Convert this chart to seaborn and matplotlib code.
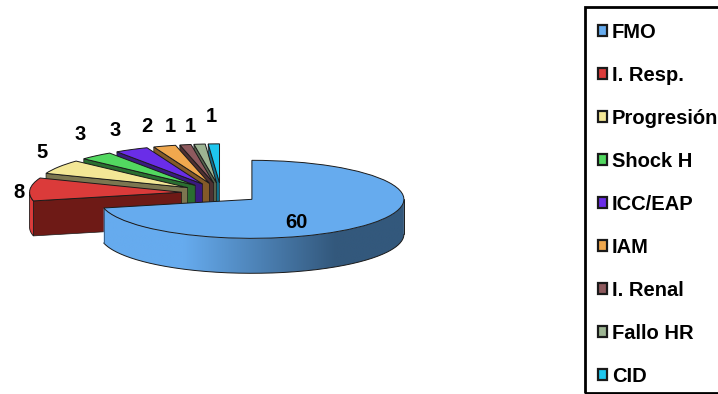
import numpy as np
import matplotlib
matplotlib.use("Agg")
import matplotlib.pyplot as plt
from matplotlib.patches import Patch, Polygon, Rectangle
import seaborn as sns

categories = ["FMO", "I. Resp.", "Progresión", "Shock H", "ICC/EAP", "IAM", "I. Renal", "Fallo HR", "CID"]
values = [60, 8, 5, 3, 3, 2, 1, 1, 1]
top_colors = ["#66ABEE", "#DB3B3A", "#F3E796", "#52D860", "#6A2DE8", "#F0A84E", "#8E5A5E", "#9DB593", "#1EC6EE"]
wall_colors = ["#33587C", "#6E1A16", "#7C7650", "#2A6E30", "#3A1A80", "#845A28", "#4E3032", "#56644E", "#10708C"]

# layout, in pixels of the 718x394 figure
W, H = 718, 394
CX, CY, RX, RY, DEPTH = 221, 193, 152, 39, 35
label_px = [(296, 222), (19, 192), (42, 152), (80, 135), (115, 131), (147, 126), (170, 126), (190, 126), (211, 117)]

sns.set_theme(style="white")
plt.rcParams["font.family"] = ["Liberation Sans", "DejaVu Sans"]

fig = plt.figure(figsize=(W / 100, H / 100), dpi=100)
ax = fig.add_axes([0, 0, 1, 1])
palette = sns.color_palette(top_colors)
explode = [0.26] * len(values)
wedges, _ = ax.pie(values, explode=explode, colors=palette, startangle=90, counterclock=False,
                   wedgeprops=dict(edgecolor="#1a1a1a", linewidth=0.7))
d = DEPTH / RY
n = len(wedges)
edge = dict(edgecolor="#1a1a1a", linewidth=0.6)


def rim_angles(w):
    t = np.linspace(w.theta1, w.theta2, 361)
    return t[np.sin(np.radians(t)) <= 0]


# small slices: back to front, then the large one
for i in list(range(n - 1, 0, -1)) + [0]:
    w = wedges[i]
    cx, cy = w.center
    z = 2 * (n - i) if i else 2 * n + 2
    w.set_zorder(z + 1)
    t = rim_angles(w)
    if i:
        a = np.radians(w.theta2)
        ex, ey = cx + w.r * np.cos(a), cy + w.r * np.sin(a)
        ax.fill([cx, ex, ex, cx], [cy, ey, ey - d, cy - d], facecolor=wall_colors[i], zorder=z,
                edgecolor="#1a1a1a", linewidth=0.5)
        if len(t) > 1:
            xs = cx + w.r * np.cos(np.radians(t))
            ys = cy + w.r * np.sin(np.radians(t))
            ax.fill(np.r_[xs, xs[::-1]], np.r_[ys, ys[::-1] - d], facecolor=top_colors[i], zorder=z, **edge)
    else:
        light = np.array(matplotlib.colors.to_rgb(top_colors[0]))
        dark = np.array(matplotlib.colors.to_rgb(wall_colors[0]))
        xs = cx + w.r * np.cos(np.radians(t))
        ys = cy + w.r * np.sin(np.radians(t))
        u = np.linspace(cx - w.r, cx + w.r, 400)
        f = np.clip((u - cx + 0.45) / 1.0, 0, 1)[None, :, None]
        grad = light * (1 - f) + dark * f
        im = ax.imshow(grad, extent=(cx - w.r, cx + w.r, cy - w.r - d, cy), aspect="auto",
                       interpolation="bilinear", zorder=z)
        clip = Polygon(np.c_[np.r_[xs, xs[::-1]], np.r_[ys, ys[::-1] - d]], transform=ax.transData)
        im.set_clip_path(clip)
        ax.plot(xs, ys - d, color="#1a1a1a", lw=0.7, zorder=z + 0.5)
        ax.plot([xs[0], xs[0]], [ys[0], ys[0] - d], color="#33587C", lw=0.6, zorder=z + 0.5)
        ax.plot([xs[-1], xs[-1]], [ys[-1], ys[-1] - d], color="#1a1a1a", lw=0.7, zorder=z + 0.5)

ax.set_aspect("auto")
ax.set_xlim(-CX / RX, (W - CX) / RX)
ax.set_ylim((CY - H) / RY, CY / RY)
ax.axis("off")

for v, (px, py) in zip(values, label_px):
    ax.text(px / W, 1 - py / H, str(v), transform=ax.transAxes, ha="center", va="center",
            fontsize=14.5, fontweight="bold", color="black", zorder=50)

# legend box runs past the right edge of the figure, as in the source
ax.add_patch(Rectangle((585 / W, 1 - 393 / H), 200 / W, 386 / H, transform=ax.transAxes,
                       fill=False, edgecolor="black", linewidth=2.0, zorder=59))
handles = [Patch(facecolor=c, edgecolor="#1a1a1a", linewidth=1.6) for c in top_colors]
leg = ax.legend(handles, categories, loc="upper left", bbox_to_anchor=(585.5 / W, 1 - 10.5 / H),
                bbox_transform=ax.transAxes, borderaxespad=0,
                prop=dict(weight="bold", size=14.5), frameon=False,
                handlelength=0.44, handleheight=0.44,
                handletextpad=0.24, labelspacing=1.19, borderpad=0.62)
leg.set_zorder(60)
for txt in leg.get_texts():
    txt.set_color("black")
fig.savefig("out.png", dpi=100, facecolor="white")
